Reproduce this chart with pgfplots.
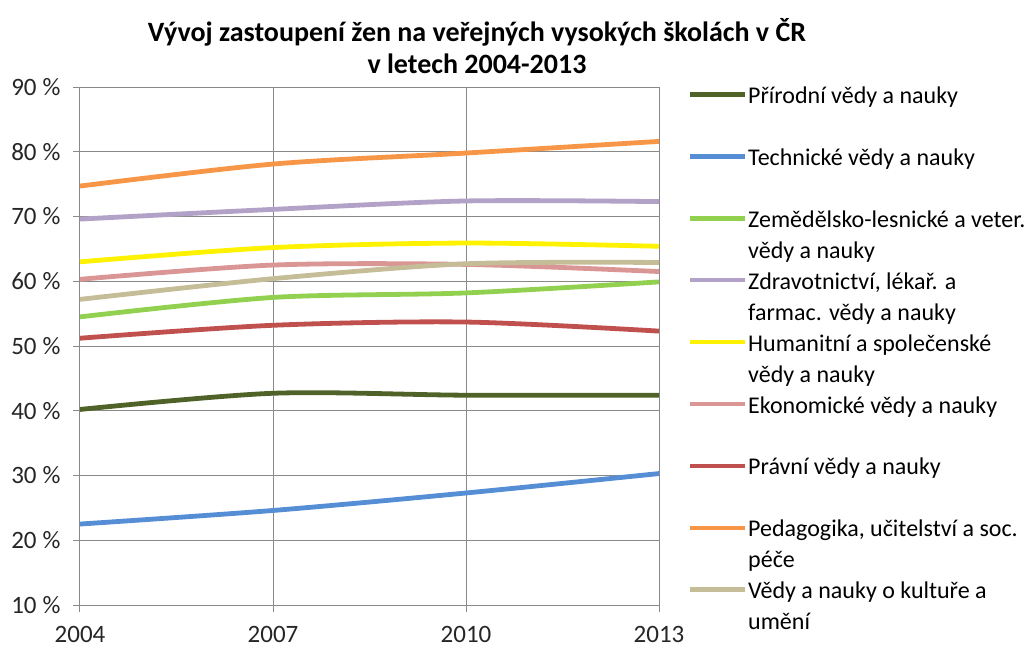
\documentclass[border=0pt]{standalone}
\usepackage{fontspec}
\setmainfont{Carlito}
\usepackage{pgfplots}
\pgfplotsset{compat=1.18}
\definecolor{cPrir}{HTML}{4F6228}
\definecolor{cTech}{HTML}{558ED5}
\definecolor{cZem}{HTML}{92D050}
\definecolor{cZdr}{HTML}{B3A2C7}
\definecolor{cHum}{HTML}{FFF200}
\definecolor{cEko}{HTML}{D99694}
\definecolor{cPra}{HTML}{C0504D}
\definecolor{cPed}{HTML}{F79646}
\definecolor{cKul}{HTML}{C4BD97}
\definecolor{gridc}{HTML}{898989}
\newcommand{\pct}[1]{#1\hspace{6pt}\%}
\newcommand{\legitem}[3]{%
  \draw[#2, line width=4.5pt] (610pt,#1) -- (665pt,#1);
  \node[anchor=base west, inner sep=0pt] at (668pt,{#1-9pt}) {\parbox[t]{300pt}{\fontsize{24}{31}\selectfont\raggedright #3}};}
\begin{document}
\begin{tikzpicture}
\begin{axis}[
  at={(0pt,0pt)}, anchor=south west,
  scale only axis, width=579pt, height=518pt,
  xmin=2004, xmax=2013, ymin=10, ymax=90,
  xtick={2004,2007,2010,2013},
  xticklabels={2004,2007,2010,2013},
  ytick={10,20,30,40,50,60,70,80,90},
  yticklabels={\pct{10},\pct{20},\pct{30},\pct{40},\pct{50},\pct{60},\pct{70},\pct{80},\pct{90}},
  grid=major,
  major grid style={gridc, line width=1pt},
  axis line style={gridc, line width=1pt},
  tick style={gridc, line width=1pt},
  tick align=outside, major tick length=7pt,
  axis x line*=bottom, axis y line*=left,
  ticklabel style={font=\fontsize{25}{29}\selectfont, text=black!85},
  yticklabel style={xshift=-9pt},
  xticklabel style={yshift=-11pt},
  every axis plot/.append style={line width=4.8pt, smooth, no markers},
]
\addplot[cPrir] coordinates {(2004,40.2) (2007,42.7) (2010,42.4) (2013,42.4)};
\addplot[cTech] coordinates {(2004,22.5) (2007,24.6) (2010,27.3) (2013,30.3)};
\addplot[cZem] coordinates {(2004,54.5) (2007,57.5) (2010,58.2) (2013,59.9)};
\addplot[cZdr] coordinates {(2004,69.6) (2007,71.1) (2010,72.4) (2013,72.3)};
\addplot[cHum] coordinates {(2004,63.0) (2007,65.2) (2010,65.9) (2013,65.4)};
\addplot[cEko] coordinates {(2004,60.3) (2007,62.5) (2010,62.6) (2013,61.5)};
\addplot[cPra] coordinates {(2004,51.2) (2007,53.2) (2010,53.7) (2013,52.3)};
\addplot[cPed] coordinates {(2004,74.7) (2007,78.1) (2010,79.8) (2013,81.6)};
\addplot[cKul] coordinates {(2004,57.2) (2007,60.4) (2010,62.7) (2013,62.9)};
\end{axis}
\legitem{510.5pt}{cPrir}{Přírodní vědy a nauky}
\legitem{448.6pt}{cTech}{Technické vědy a nauky}
\legitem{386.7pt}{cZem}{Zemědělsko-lesnické a veter.\\vědy a nauky}
\legitem{324.8pt}{cZdr}{Zdravotnictví, lékař. a\\farmac. vědy a nauky}
\legitem{262.9pt}{cHum}{Humanitní a společenské\\vědy a nauky}
\legitem{201.0pt}{cEko}{Ekonomické vědy a nauky}
\legitem{139.1pt}{cPra}{Právní vědy a nauky}
\legitem{77.2pt}{cPed}{Pedagogika, učitelství a soc.\\péče}
\legitem{15.3pt}{cKul}{Vědy a nauky o kultuře a\\umění}
\node[font=\fontsize{28}{32}\selectfont\bfseries, align=center] at (397pt,559pt) {Vývoj zastoupení žen na veřejných vysokých školách v ČR\\v letech 2004-2013};
\pgfresetboundingbox
\useasboundingbox (-80pt,-43pt) rectangle (955pt,605pt);
\end{tikzpicture}
\end{document}
